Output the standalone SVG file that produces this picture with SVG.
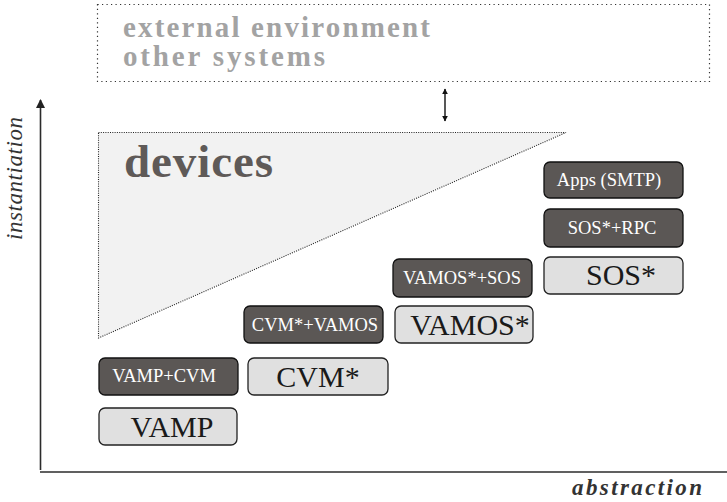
<svg xmlns="http://www.w3.org/2000/svg" width="727" height="502" viewBox="0 0 727 502">
  <style>
    .dark rect { fill: #5b5755; stroke: #111; stroke-width: 1.3; }
    .dark text { fill: #ffffff; font-family: "Liberation Serif", serif; font-size: 18.5px; text-anchor: middle; }
    .light rect { fill: #e0e0e0; stroke: #222; stroke-width: 1.3; }
    .light text { fill: #1a1a1a; font-family: "Liberation Serif", serif; font-size: 30px; text-anchor: middle; }
    .axis { stroke: #2b2b2b; stroke-width: 1.6; fill: none; }
    .axlabel { fill: #333; font-family: "Liberation Serif", serif; font-style: italic; font-size: 23px; }
    .env { font-family: "Liberation Serif", serif; font-weight: bold; font-size: 29px; fill: #a3a3a3; }
  </style>
  <defs>
    <marker id="ah" viewBox="0 0 10 10" refX="9" refY="5" markerWidth="6" markerHeight="6" orient="auto-start-reverse" markerUnits="userSpaceOnUse">
      <path d="M0,0 L10,5 L0,10 z" fill="#111"/>
    </marker>
    <marker id="axh" viewBox="0 0 10 10" refX="9" refY="5" markerWidth="10" markerHeight="9" orient="auto" markerUnits="userSpaceOnUse">
      <path d="M0,0 L10,5 L0,10 z" fill="#222"/>
    </marker>
  </defs>

  <!-- outer environment -->
  <g id="environment">
    <rect x="97.5" y="4.5" width="612" height="77" fill="none" stroke="#333" stroke-width="1.2" stroke-dasharray="1.2 3.3"/>
    <text class="env" x="123" y="37" textLength="307">external environment</text>
    <text class="env" x="123" y="66" textLength="202">other systems</text>
  </g>

  <!-- devices region -->
  <g id="devices">
    <polygon points="98.5,132.5 566,132.5 98.5,338" fill="#f2f2f2" stroke="#222" stroke-width="1.1" stroke-dasharray="1 1.3"/>
    <text x="124" y="177" font-family="Liberation Serif, serif" font-weight="bold" font-size="47" fill="#5f5a58" textLength="149">devices</text>
  </g>

  <!-- axes and link -->
  <g id="connectors">
    <line class="axis" x1="40.5" y1="470" x2="40.5" y2="100" marker-end="url(#axh)"/>
    <line class="axis" x1="40" y1="472" x2="727" y2="472"/>
    <line x1="445" y1="89" x2="445" y2="121" stroke="#111" stroke-width="1.4" marker-start="url(#ah)" marker-end="url(#ah)"/>
  </g>

  <text class="axlabel" transform="translate(22,240) rotate(-90)" textLength="123">instantiation</text>
  <text class="axlabel" x="572" y="495" font-weight="bold" textLength="130">abstraction</text>

  <!-- layers -->
  <g id="vamp" class="light">
    <rect x="99" y="408" width="138" height="37" rx="6"/>
    <text x="172" y="437">VAMP</text>
  </g>
  <g id="vamp-cvm" class="dark">
    <rect x="99" y="358" width="139" height="37" rx="6"/>
    <text x="164" y="382">VAMP+CVM</text>
  </g>
  <g id="cvm" class="light">
    <rect x="248" y="358" width="140" height="37" rx="6"/>
    <text x="318" y="387">CVM*</text>
  </g>
  <g id="cvm-vamos" class="dark">
    <rect x="244" y="306" width="139" height="37" rx="6"/>
    <text x="315" y="331">CVM*+VAMOS</text>
  </g>
  <g id="vamos" class="light">
    <rect x="395" y="306" width="138" height="37" rx="6"/>
    <text x="470" y="335">VAMOS*</text>
  </g>
  <g id="vamos-sos" class="dark">
    <rect x="393" y="259" width="139" height="38" rx="6"/>
    <text x="462" y="284">VAMOS*+SOS</text>
  </g>
  <g id="sos" class="light">
    <rect x="544" y="257" width="139" height="37" rx="6"/>
    <text x="621" y="285">SOS*</text>
  </g>
  <g id="sos-rpc" class="dark">
    <rect x="544" y="209" width="139" height="38" rx="6"/>
    <text x="612" y="234">SOS*+RPC</text>
  </g>
  <g id="apps" class="dark">
    <rect x="544" y="162" width="139" height="36" rx="6"/>
    <text x="609" y="186">Apps (SMTP)</text>
  </g>
</svg>
